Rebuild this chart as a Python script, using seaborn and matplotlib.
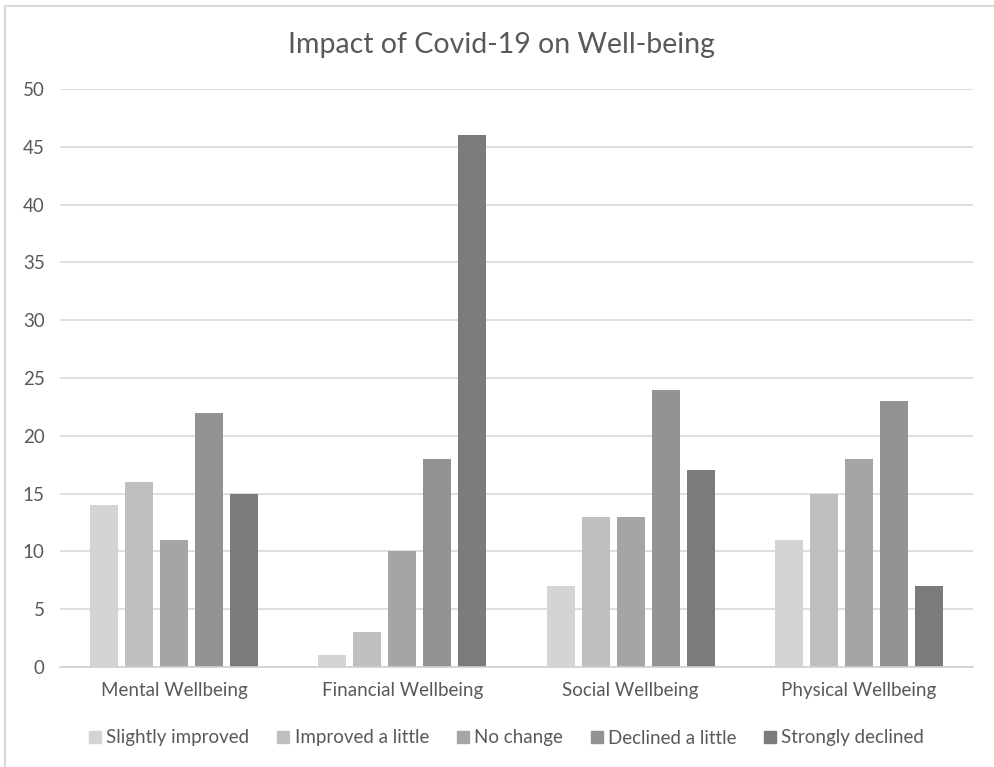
import matplotlib
matplotlib.use("Agg")
import matplotlib.pyplot as plt
from matplotlib.lines import Line2D
import seaborn as sns
import pandas as pd

# Survey responses per well-being domain
categories = ["Mental Wellbeing", "Financial Wellbeing", "Social Wellbeing", "Physical Wellbeing"]
responses = ["Slightly improved", "Improved a little", "No change", "Declined a little", "Strongly declined"]
slightly_improved = [14, 1, 7, 11]
improved_a_little = [16, 3, 13, 15]
no_change = [11, 10, 13, 18]
declined_a_little = [22, 18, 24, 23]
strongly_declined = [15, 46, 17, 7]
y_ticks = [0, 5, 10, 15, 20, 25, 30, 35, 40, 45, 50]

series = [slightly_improved, improved_a_little, no_change, declined_a_little, strongly_declined]
rows = []
for resp, vals in zip(responses, series):
    for cat, v in zip(categories, vals):
        rows.append({"Category": cat, "Response": resp, "Count": v})
df = pd.DataFrame(rows)

palette = ["#d4d4d4", "#bfbfbf", "#a5a5a5", "#939393", "#7b7b7b"]

sns.set_theme(style="white")
plt.rcParams["font.family"] = ["Lato", "DejaVu Sans"]

fig = plt.figure(figsize=(9.94, 7.67), dpi=100)
ax = fig.add_axes([60 / 994, 1 - 667 / 767, 913 / 994, (667 - 89) / 767])

sns.barplot(data=df, x="Category", y="Count", hue="Response", order=categories,
            hue_order=responses, palette=palette, width=0.767, gap=0.2,
            saturation=1, ax=ax, legend=False, linewidth=0)

ax.set_ylim(0, 50)
ax.set_xlim(-0.5, len(categories) - 0.5)
ax.set_yticks(y_ticks)
ax.yaxis.grid(True, color="#d9d9d9", linewidth=1.2)
ax.set_axisbelow(True)
for s in ["top", "right", "left"]:
    ax.spines[s].set_visible(False)
ax.spines["bottom"].set_color("#d0d0d0")
ax.spines["bottom"].set_linewidth(1.2)
ax.tick_params(axis="both", length=0, labelsize=13.5, colors="#595959")
ax.tick_params(axis="y", pad=11)
ax.tick_params(axis="x", pad=11)
ax.set_xlabel("")
ax.set_ylabel("")

fig.text(0.505, 1 - 45 / 767, "Impact of Covid-19 on Well-being", ha="center", va="center",
         fontsize=20.5, color="#595959")

handles = [Line2D([0], [0], marker="s", linestyle="none", markersize=9,
                  markerfacecolor=c, markeredgecolor=c) for c in palette]
fig.legend(handles, responses, loc="center", bbox_to_anchor=(0.508, 1 - 738 / 767),
           ncol=5, frameon=False, fontsize=13.5, labelcolor="#595959",
           handletextpad=0.1, columnspacing=1.3, handlelength=1.0)

# chart frame
fig.add_artist(Line2D([5 / 994, 5 / 994], [0, 1 - 6 / 767], transform=fig.transFigure,
                      color="#d9d9d9", linewidth=1.5))
fig.add_artist(Line2D([5 / 994, 1], [1 - 6 / 767, 1 - 6 / 767], transform=fig.transFigure,
                      color="#d9d9d9", linewidth=1.5))

fig.savefig("out.png", dpi=100)
